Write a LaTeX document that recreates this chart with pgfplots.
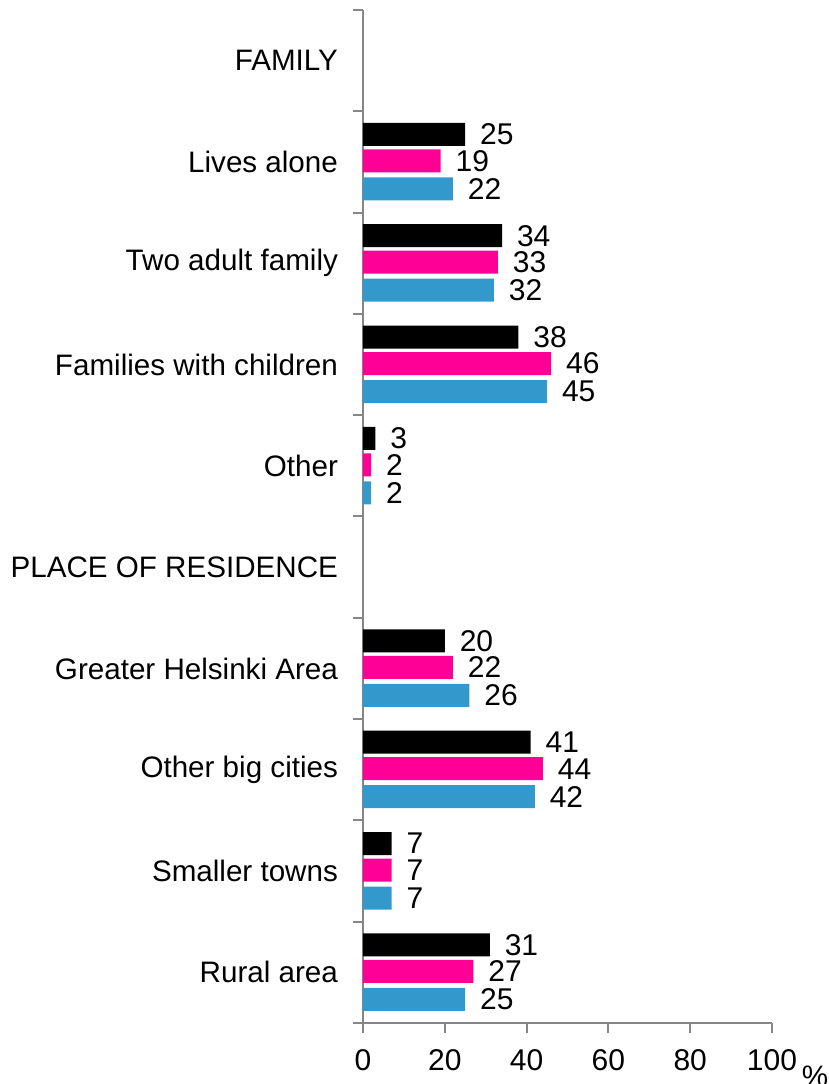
\documentclass[border=0pt]{standalone}
\usepackage{fontspec}
\setmainfont{Liberation Sans}
\usepackage{pgfplots}
\pgfplotsset{compat=1.18}
\definecolor{barblack}{RGB}{0,0,0}
\definecolor{barpink}{RGB}{255,0,150}
\definecolor{barblue}{RGB}{51,153,204}
\definecolor{axgray}{RGB}{134,134,134}
\newcommand{\lblfont}{\fontsize{14.8}{17}\selectfont}
\newcommand{\valfont}{\fontsize{15}{18}\selectfont}
\begin{document}
\begin{tikzpicture}
\begin{axis}[
  name=ax,
  scale only axis, width=204.5pt, height=506.5pt,
  xbar, bar width=11.5pt,
  xmin=0, xmax=100, ymin=-0.5, ymax=9.5,
  axis x line*=bottom, axis y line*=left,
  axis line style={draw=axgray, line width=1pt},
  every tick/.style={draw=axgray, line width=1pt},
  tick align=outside,
  major tick length=5pt,
  xtick={0,20,...,100},
  ytick={-0.5,0.5,...,9.5},
  yticklabels={},
  extra y ticks={0,1,2,3,4,5,6,7,8,9},
  extra y tick labels={Rural area, Smaller towns, Other big cities, Greater Helsinki Area, PLACE OF RESIDENCE, Other, Families with children, Two adult family, Lives alone, FAMILY},
  extra y tick style={tick style={draw=none}},
  /pgf/number format/assume math mode=true,
  xticklabel style={font=\valfont, yshift=-4.7pt},
  yticklabel style={font=\lblfont, xshift=-4pt},
  xlabel={\%},
  xlabel style={at={(axis description cs:1,0)}, anchor=center, xshift=21.5pt, yshift=-26.5pt, font=\lblfont},
  nodes near coords,
  nodes near coords style={font=\valfont, text=black, anchor=west, inner sep=0pt, xshift=7.3pt},
]
\addplot[fill=barblack, draw=none, bar shift=13.75pt] coordinates {(25,8) (34,7) (38,6) (3,5) (20,3) (41,2) (7,1) (31,0)};
\addplot[fill=barpink, draw=none, bar shift=0.5pt] coordinates {(19,8) (33,7) (46,6) (2,5) (22,3) (44,2) (7,1) (27,0)};
\addplot[fill=barblue, draw=none, bar shift=-13.5pt] coordinates {(22,8) (32,7) (45,6) (2,5) (26,3) (42,2) (7,1) (25,0)};
\end{axis}
\pgfresetboundingbox
\path[use as bounding box] ([shift={(-181.5pt,-30.5pt)}]ax.south west) rectangle ([shift={(233pt,511.5pt)}]ax.south west);
\end{tikzpicture}
\end{document}
